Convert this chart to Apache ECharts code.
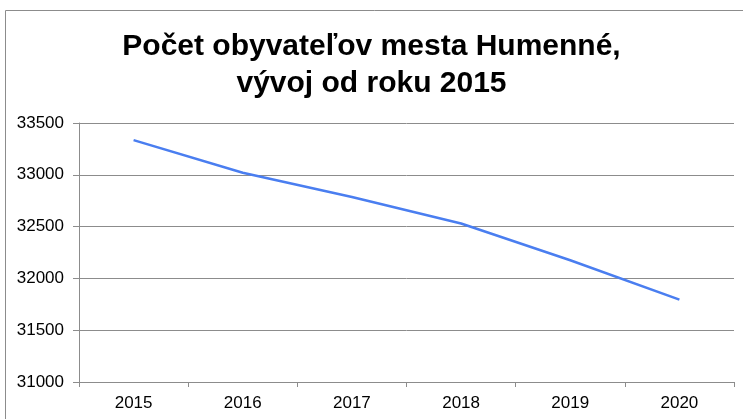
<!DOCTYPE html>
<html lang="sk">
<head>
  <meta charset="UTF-8">
  <title>Počet obyvateľov mesta Humenné</title>
  <style>
    html, body { margin: 0; padding: 0; background: #fff; }
    #main { width: 743px; height: 419px; }
  </style>
</head>
<body>
  <div id="main"></div>
  <script src="https://cdn.jsdelivr.net/npm/echarts@6/dist/echarts.min.js"></script>
  <script>
    const years = ['2015', '2016', '2017', '2018', '2019', '2020'];
    const population = [33335, 33020, 32785, 32530, 32175, 31795];
    const yMin = 31000, yMax = 33500, yStep = 500;

    const chart = echarts.init(document.getElementById('main'));
    const font = '"Liberation Sans", Arial, sans-serif';

    chart.setOption({
      animation: false,
      title: {
        text: 'Počet obyvateľov mesta Humenné,\nvývoj od roku 2015',
        left: 'center',
        top: 23,
        textStyle: {
          fontFamily: font,
          fontWeight: 'bold',
          fontSize: 30,
          lineHeight: 37,
          color: '#000'
        }
      },
      graphic: [{
        type: 'rect',
        shape: { x: 5.5, y: 10.5, width: 800, height: 500 },
        style: { fill: 'none', stroke: '#8c8c8c', lineWidth: 1 },
        silent: true
      }],
      grid: { left: 79, right: 9, top: 123, bottom: 37 },
      xAxis: {
        type: 'category',
        data: years,
        boundaryGap: true,
        axisLine: { lineStyle: { color: '#8c8c8c', width: 1 } },
        axisTick: { show: true, length: 5, lineStyle: { color: '#8c8c8c' } },
        axisLabel: { fontFamily: font, fontSize: 17, color: '#000', margin: 13 }
      },
      yAxis: {
        type: 'value',
        min: yMin,
        max: yMax,
        interval: yStep,
        axisLine: { show: true, lineStyle: { color: '#8c8c8c', width: 1 } },
        axisTick: { show: true, length: 6, lineStyle: { color: '#8c8c8c' } },
        axisLabel: {
          fontFamily: font, fontSize: 17, color: '#000', margin: 15,
          formatter: v => String(v)
        },
        splitLine: { lineStyle: { color: '#8c8c8c', width: 1 } }
      },
      series: [{
        type: 'line',
        data: population,
        showSymbol: false,
        lineStyle: { color: '#4a7ef0', width: 2.5 }
      }]
    });
  </script>
</body>
</html>
